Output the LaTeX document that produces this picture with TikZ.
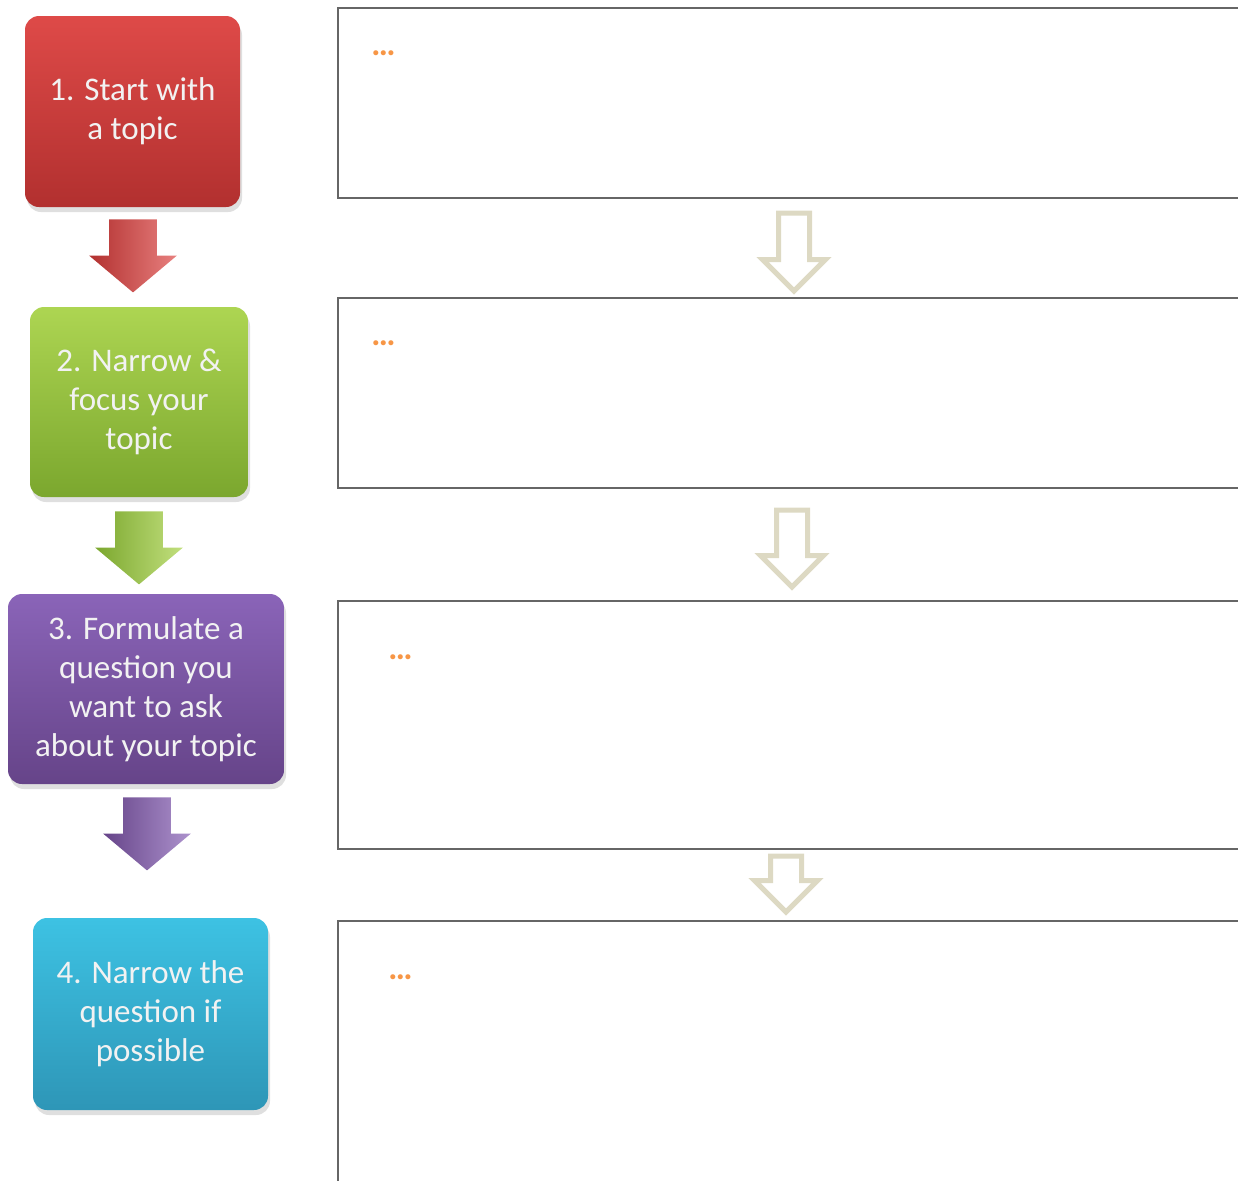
\documentclass[tikz,border=0pt]{standalone}
\usepackage{fontspec}
\setmainfont{Carlito}
\usetikzlibrary{shapes,arrows,calc,shadows}

\definecolor{redtop}{HTML}{DE4A48}
\definecolor{redbot}{HTML}{B2302F}
\definecolor{greentop}{HTML}{ADD552}
\definecolor{greenbot}{HTML}{7BA72E}
\definecolor{purpletop}{HTML}{8A64B8}
\definecolor{purplebot}{HTML}{664489}
\definecolor{cyantop}{HTML}{3DC2E3}
\definecolor{cyanbot}{HTML}{2E96B7}
\definecolor{tanline}{HTML}{DDD9C3}
\definecolor{dotorange}{HTML}{F79646}

\begin{document}
\begin{tikzpicture}[x=0.5pt,y=-0.5pt,
  topic/.style={rounded corners=7pt, align=center, text=white!95!black, inner sep=0pt,
    font=\fontsize{16.5}{19.5}\selectfont,
    drop shadow={shadow xshift=1pt, shadow yshift=-2.5pt, opacity=0.25}},
  blockarrow/.style={single arrow, shape border rotate=270, inner sep=11.75pt, anchor=tail,
    minimum height=36.5pt, single arrow head extend=10pt, single arrow tip angle=100},
  notebox/.style={draw=black!60, line width=1pt, anchor=north west,
    minimum width=480pt, inner sep=0pt},
  notedots/.style={text=dotorange, anchor=base west, inner sep=0pt,
    font=\fontsize{17}{19.5}\selectfont\bfseries},
  hollow/.style={single arrow, shape border rotate=270, draw=tanline, fill=white, anchor=tail,
    line width=2.5pt, inner sep=6.5pt, single arrow head extend=8pt}]
  \useasboundingbox (0,0) rectangle (1238,1180);
  \clip (0,0) rectangle (1238,1180);

  \node[topic, top color=redtop, bottom color=redbot,
    minimum width=107.5pt, minimum height=95.5pt] (s1) at (132.5,111.5)
    {1. Start with\\a topic};
  \node[topic, top color=greentop, bottom color=greenbot,
    minimum width=109pt, minimum height=95pt] (s2) at (139,402)
    {2. Narrow \&\\focus your\\topic};
  \node[topic, top color=purpletop, bottom color=purplebot,
    minimum width=138pt, minimum height=95pt] (s3) at (146,689)
    {3. Formulate a\\question you\\want to ask\\about your topic};
  \node[topic, top color=cyantop, bottom color=cyanbot,
    minimum width=117.5pt, minimum height=96pt] (s4) at (150.5,1014)
    {4. Narrow the\\question if\\possible};

  \node[blockarrow, left color=redbot, right color=redtop!70!white] (a1) at (133,219) {};
  \node[blockarrow, left color=greenbot, right color=greentop!75!white] (a2) at (139,511) {};
  \node[blockarrow, left color=purplebot, right color=purpletop!70!white] (a3) at (147,797) {};

  \node[notebox, minimum height=95pt] (n1) at (337,7) {};
  \node[notebox, minimum height=95pt] (n2) at (337,297) {};
  \node[notebox, minimum height=124pt] (n3) at (337,600) {};
  \node[notebox, minimum height=150pt] (n4) at (337,920) {};

  \node[notedots] (d1) at ($(n1.north west)+(34,48)$) {…};
  \node[notedots] (d2) at ($(n2.north west)+(34,48)$) {…};
  \node[notedots] (d3) at ($(n3.north west)+(51,59)$) {…};
  \node[notedots] (d4) at ($(n4.north west)+(51,59)$) {…};

  \node[hollow, minimum height=39pt] (h1) at (794,210.5) {};
  \node[hollow, minimum height=38.5pt] (h2) at (792,507.5) {};
  \node[hollow, minimum height=28pt] (h3) at (786,853.5) {};
\end{tikzpicture}
\end{document}
